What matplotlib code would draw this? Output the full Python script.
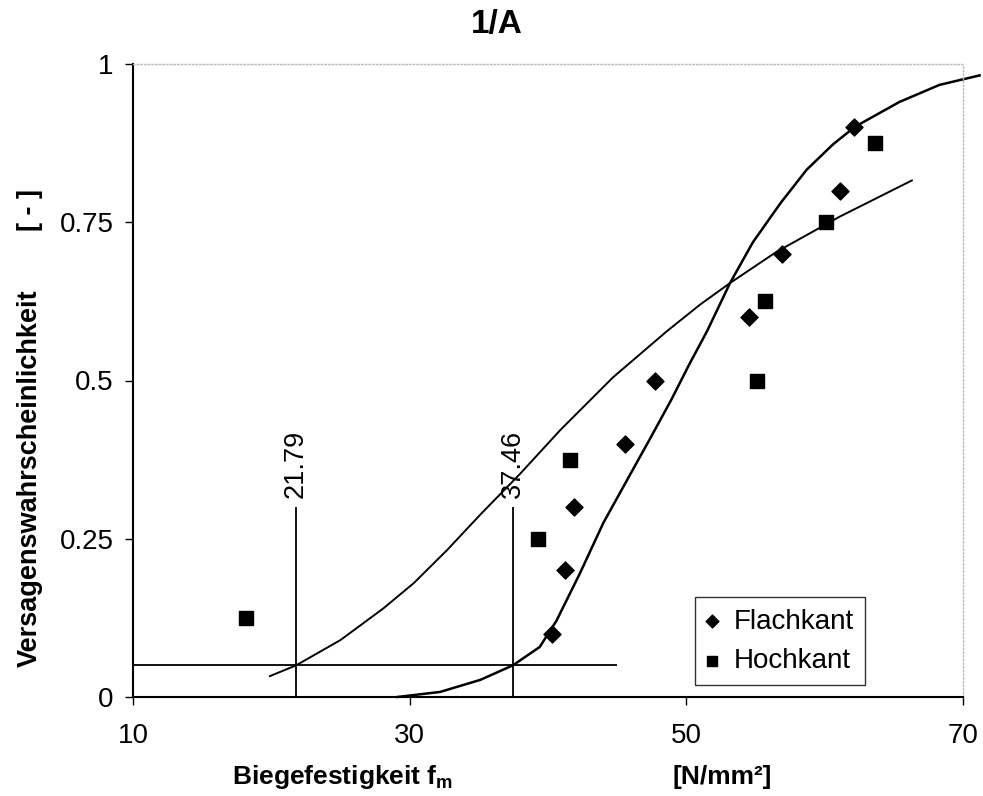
import numpy as np
import matplotlib
matplotlib.use("Agg")
import matplotlib.pyplot as plt

plt.rcParams['font.family'] = ['Liberation Sans', 'DejaVu Sans']

# test results (strength, failure probability)
flach_x = [40.3, 41.2, 41.9, 45.6, 47.7, 54.5, 56.9, 61.1, 62.1]
flach_y = [0.1, 0.2, 0.3, 0.4, 0.5, 0.6, 0.7, 0.8, 0.9]
hoch_x = [18.2, 39.3, 41.6, 55.1, 55.7, 60.1, 63.65]
hoch_y = [0.125, 0.25, 0.375, 0.5, 0.625, 0.75, 0.875]

# fitted distribution curves
flat_x = [19.9, 21.79, 25.0, 28.1, 30.3, 32.7, 35.1, 38.0, 40.9, 44.7, 48.6, 51.0, 53.16,
          56.5, 61.1, 66.3]
flat_y = [0.033, 0.05, 0.09, 0.14, 0.18, 0.232, 0.288, 0.353, 0.422, 0.505, 0.578, 0.62, 0.654,
          0.703, 0.759, 0.816]
steep_x = [29.1, 32.2, 35.1, 37.46, 39.4, 40.6, 42.3, 44.0, 45.9, 47.3, 48.9, 50.2, 51.5,
           53.16, 54.8, 56.8, 58.7, 60.6, 62.2, 65.4, 68.3, 71.2]
steep_y = [0.0, 0.008, 0.027, 0.05, 0.079, 0.12, 0.195, 0.275, 0.35, 0.405, 0.469, 0.525, 0.578,
           0.654, 0.718, 0.78, 0.833, 0.873, 0.901, 0.94, 0.967, 0.982]

# 5% fractiles
fractiles = [21.79, 37.46]
fractile_labels = ["21.79", "37.46"]
p05 = 0.05

fig = plt.figure(figsize=(9.83, 7.96), dpi=100)
ax = fig.add_axes([133/983, 1-697/796, 830/983, 633/796])

ax.plot(flat_x, flat_y, color='black', lw=1.4)
ax.plot(steep_x, steep_y, color='black', lw=1.8, clip_on=False)

ax.hlines(p05, 10, 45, color='black', lw=1.3)
for fx, lab in zip(fractiles, fractile_labels):
    ax.vlines(fx, 0, 0.3, color='black', lw=1.3)
    ax.text(fx, 0.315, lab, rotation=90, ha='center', va='bottom', fontsize=19.5)

ax.scatter(flach_x, flach_y, marker='D', s=75, color='black', label='Flachkant', zorder=3)
ax.scatter(hoch_x, hoch_y, marker='s', s=110, color='black', label='Hochkant', zorder=3)

ax.set_xlim(10, 70)
ax.set_ylim(0, 1)
ax.set_xticks([10, 30, 50, 70])
ax.set_yticks([0, 0.25, 0.5, 0.75, 1])
ax.set_yticklabels(['0', '0.25', '0.5', '0.75', '1'])
ax.tick_params(labelsize=20, length=6, width=1, direction='out', pad=8)
ax.tick_params(axis='x', pad=13)

for s in ['top', 'right']:
    ax.spines[s].set_color('#bbbbbb')
    ax.spines[s].set_linestyle(':')
    ax.spines[s].set_linewidth(1)
for s in ['left', 'bottom']:
    ax.spines[s].set_linewidth(1.5)

leg = ax.legend(loc='lower right', fontsize=20, frameon=True, fancybox=False, edgecolor='black',
                handletextpad=0.6, borderpad=0.4, labelspacing=0.48, handlelength=0.4,
                borderaxespad=0, scatterpoints=1, markerscale=0.75)
leg.set_bbox_to_anchor((865/983, 1-685/796), transform=fig.transFigure)
leg.get_frame().set_linewidth(1)

fig.text(497/983, 1-25/796, "1/A", ha='center', va='center', fontsize=24, fontweight='bold')
fig.text(30/983, 1-478/796, "Versagenswahrscheinlichkeit", rotation=90, ha='center', va='center',
         fontsize=19.5, fontweight='bold')
fig.text(30/983, 1-210/796, "[ - ]", rotation=90, ha='center', va='center', fontsize=19.5,
         fontweight='bold')
fig.text(343/983, 1-777/796, "Biegefestigkeit f$_\\mathregular{m}$", ha='center', va='center',
         fontsize=19, fontweight='bold')
fig.text(722/983, 1-777/796, "[N/mm²]", ha='center', va='center', fontsize=19, fontweight='bold')

fig.savefig("out.png", dpi=100)
